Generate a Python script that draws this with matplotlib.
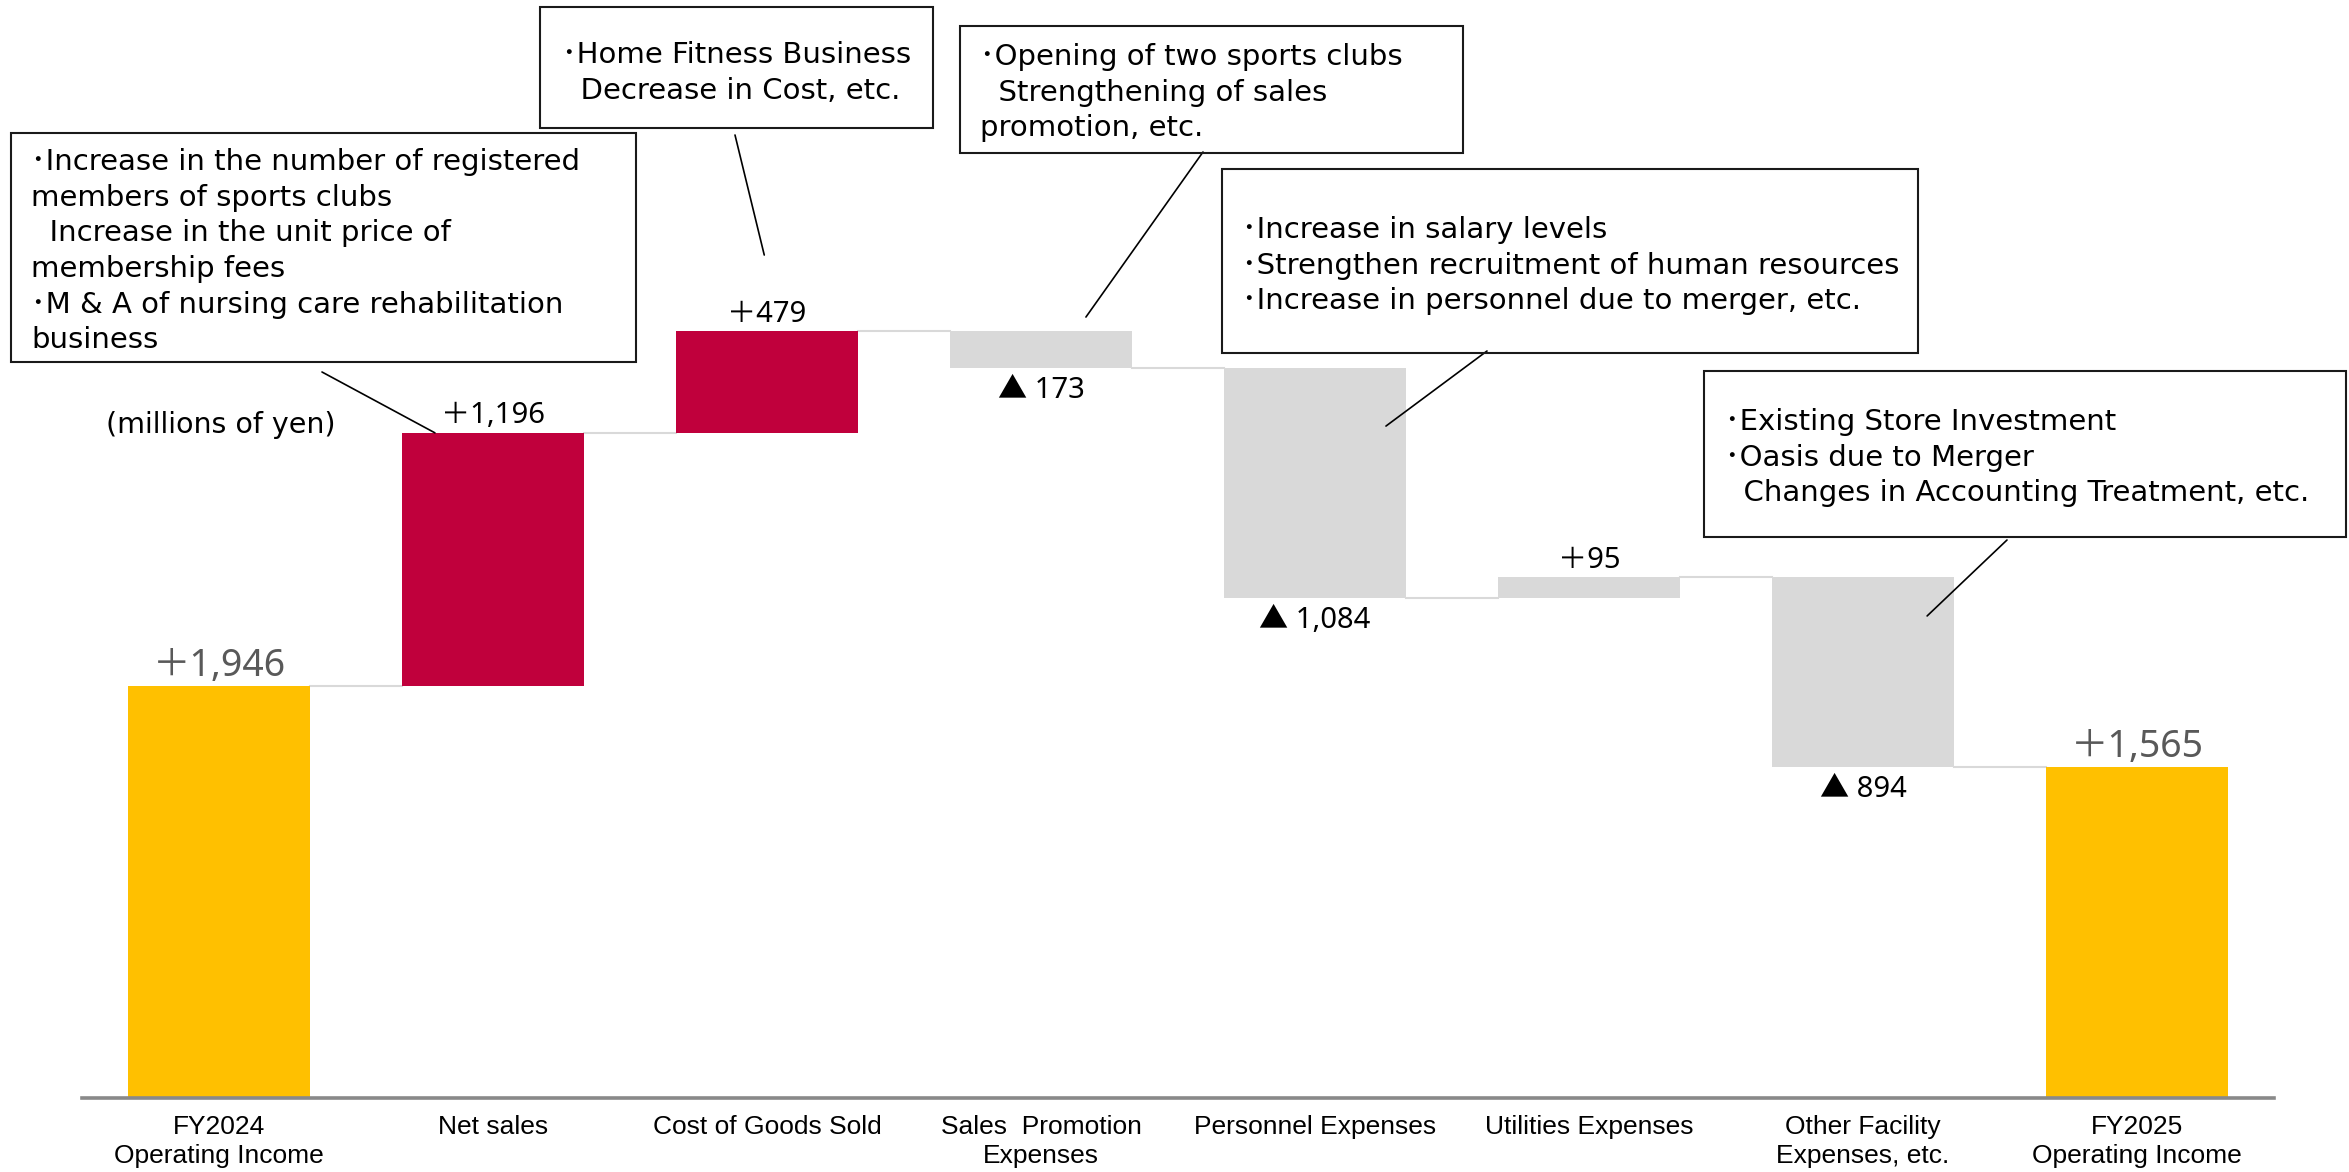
import matplotlib.pyplot as plt
from matplotlib.patches import Rectangle

# data (millions of yen)
categories = ["FY2024\nOperating Income", "Net sales", "Cost of Goods Sold",
              "Sales  Promotion\nExpenses", "Personnel Expenses", "Utilities Expenses",
              "Other Facility\nExpenses, etc.", "FY2025\nOperating Income"]
changes = [1946, 1196, 479, -173, -1084, 95, -894, 1565]
is_total = [True, False, False, False, False, False, False, True]

notes = [
    ["･Increase in the number of registered", "members of sports clubs",
     "  Increase in the unit price of", "membership fees",
     "･M & A of nursing care rehabilitation", "business"],
    ["･Home Fitness Business", "  Decrease in Cost, etc."],
    ["･Opening of two sports clubs", "  Strengthening of sales", "promotion, etc."],
    ["･Increase in salary levels", "･Strengthen recruitment of human resources",
     "･Increase in personnel due to merger, etc."],
    ["･Existing Store Investment", "･Oasis due to Merger",
     "  Changes in Accounting Treatment, etc."],
]

# styling / layout
W, H = 2349, 1172
GOLD, RED, GRAY = "#FFC000", "#C0003C", "#D9D9D9"
bar_colors = [GOLD, RED, RED, GRAY, GRAY, GRAY, GRAY, GOLD]
BAR_W = 0.664
TXT = ["DejaVu Sans", "Noto Sans CJK JP"]
NUM = ["Noto Sans", "Noto Sans CJK JP"]

# note boxes in pixels: (left, top, right, bottom), text x, first baseline
boxes = [(11, 133, 636, 362, 31, 170),
         (540, 7, 933, 128, 562, 63),
         (960, 26, 1463, 153, 980, 65),
         (1222, 169, 1918, 353, 1242, 238),
         (1704, 371, 2346, 537, 1725, 430)]
LINE_STEP = 35.7
# leader: start pixel on box, end in data coords
leaders = [((322, 372), (0.788, 3142)),
           ((735, 135), (1.99, 3982)),
           ((1203, 152), (3.164, 3689)),
           ((1487, 351), (4.259, 3174)),
           ((2007, 540), (6.234, 2277))]


def fx(px):
    return px / W


def fy(py):
    return 1 - py / H


fig = plt.figure(figsize=(W / 100, H / 100), dpi=100)
ax = fig.add_axes([fx(82), fy(1098), fx(2274) - fx(82), 1 - fy(1098)])

# waterfall geometry
bottoms, heights, levels = [], [], []
run = 0
for v, tot in zip(changes, is_total):
    if tot:
        bottoms.append(0)
        heights.append(v)
        run = v
    else:
        bottoms.append(run if v > 0 else run + v)
        heights.append(abs(v))
        run += v
    levels.append(run)

x = list(range(len(categories)))
ax.bar(x, heights, bottom=bottoms, width=BAR_W, color=bar_colors, zorder=2)

for i in range(len(x) - 1):
    ax.plot([i + BAR_W / 2, i + 1 - BAR_W / 2], [levels[i], levels[i]],
            color=GRAY, lw=1.5, zorder=1)

for i, v in enumerate(changes):
    if is_total[i]:
        ax.annotate(f"＋{v:,}", (i, bottoms[i] + heights[i]), xytext=(0, 7),
                    textcoords="offset points", ha="center", va="baseline",
                    fontsize=27, color="#595959", family=NUM)
    elif v > 0:
        ax.annotate(f"＋{v:,}", (i, bottoms[i] + heights[i]), xytext=(0, 7),
                    textcoords="offset points", ha="center", va="baseline",
                    fontsize=21, color="black", family=NUM)
    else:
        ax.annotate(f"▲ {-v:,}", (i, bottoms[i]), xytext=(0, -6),
                    textcoords="offset points", ha="center", va="top",
                    fontsize=21, color="black", family=NUM)

ax.set_xlim(-0.5, len(x) - 0.5)
ax.set_ylim(0, 1098 / 0.2117)
ax.set_xticks(x)
ax.set_xticklabels(categories, fontsize=19, family="Liberation Sans", linespacing=1.27)
ax.tick_params(axis="x", length=0, pad=12)
ax.set_yticks([])
for s in ["top", "right", "left"]:
    ax.spines[s].set_visible(False)
ax.spines["bottom"].set_color("#898989")
ax.spines["bottom"].set_linewidth(2.6)

# notes
for (l, t, r, b, tx, ty), lines in zip(boxes, notes):
    fig.add_artist(Rectangle((fx(l), fy(b)), fx(r) - fx(l), fy(t) - fy(b),
                             transform=fig.transFigure, fill=False,
                             edgecolor="#1a1a1a", lw=1.5))
    for k, line in enumerate(lines):
        fig.text(fx(tx), fy(ty + k * LINE_STEP), line, fontsize=21,
                 family=TXT, ha="left", va="baseline")

for (sx, sy), end in leaders:
    ax.annotate("", xy=end, xycoords="data", xytext=(fx(sx), fy(sy)),
                textcoords="figure fraction",
                arrowprops=dict(arrowstyle="-", color="black", lw=1.2,
                                shrinkA=0, shrinkB=0))

fig.text(fx(106), fy(433), "(millions of yen)", fontsize=20.5, family=TXT,
         ha="left", va="baseline")

fig.savefig("out.png", dpi=100)
